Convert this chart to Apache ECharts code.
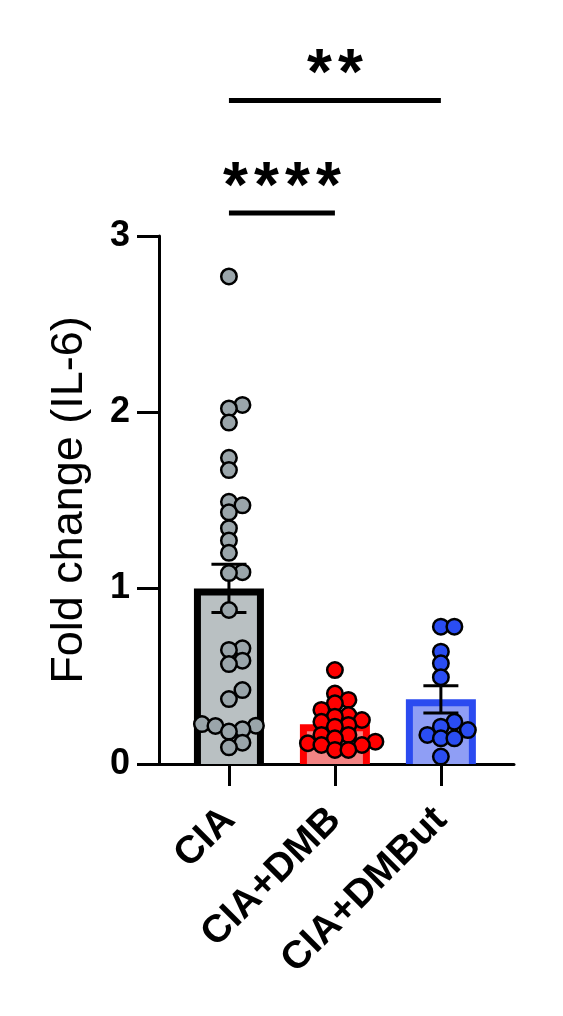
<!DOCTYPE html>
<html><head><meta charset="utf-8">
<script src="https://cdn.jsdelivr.net/npm/echarts@6/dist/echarts.min.js"></script>
<style>html,body{margin:0;padding:0;background:#fff}#c{width:563px;height:1016px}</style>
</head><body><div id="c"></div>
<script>
// ---------------- data ----------------
const categories = ['CIA', 'CIA+DMB', 'CIA+DMBut'];
const ciaValues = [2.77, 2.04, 2.02, 1.94, 1.74, 1.67, 1.49, 1.47, 1.43, 1.34, 1.27, 1.20, 1.09, 1.085,
  0.875, 0.657, 0.648, 0.587, 0.568, 0.42, 0.369, 0.227, 0.218, 0.216, 0.197, 0.184, 0.121, 0.095];
const dmbValues = [0.534, 0.40, 0.364, 0.345, 0.307, 0.278, 0.269, 0.25, 0.24, 0.222, 0.212,
  0.165, 0.165, 0.146, 0.127, 0.118, 0.108, 0.108, 0.08, 0.08];
const dmbutValues = [0.78, 0.78, 0.638, 0.572, 0.493, 0.24, 0.212, 0.193, 0.165, 0.146, 0.146, 0.042];
const yTicks = [0, 1, 2, 3];
const significance = [
  { label: '****', from: 0, to: 1 },
  { label: '**', from: 0, to: 2 }
];

// ---------------- style ----------------
const FONT = '"Liberation Sans", Arial, Helvetica, sans-serif';
const GRID = { left: 159, top: 236, width: 355, height: 528 };
const X_MIN = -0.66, X_MAX = 2.69;
const BAR_W = 70, BAR_B = 7;
const SIG_LEVELS = [3.13, 3.77];
const STAR_GAP = 31, STAR_SIZE = 64, STAR_OFF = 24;
const groupStyles = [
  { border: '#000000', fill: '#b9c0c2', point: '#9aa5aa' },
  { border: '#ff0000', fill: '#f38383', point: '#ff0000' },
  { border: '#2b4bf0', fill: '#8f9ef5', point: '#2a4df2' }
];
const groupValues = [ciaValues, dmbValues, dmbutValues];

function mean(a) { return a.reduce((s, v) => s + v, 0) / a.length; }
function sem(a) {
  const m = mean(a);
  const sd = Math.sqrt(a.reduce((s, v) => s + (v - m) * (v - m), 0) / (a.length - 1));
  return sd / Math.sqrt(a.length);
}

// deterministic swarm layout: points at nearly the same level are spread sideways
function swarm(vals, cx) {
  const sx = GRID.width / (X_MAX - X_MIN), sy = GRID.height / (yTicks[yTicks.length - 1] - yTicks[0]);
  const DX = 13.5, DY = 9.5;
  const placed = [];
  const order = vals.map((v, i) => i).sort((a, b) => vals[a] - vals[b]);
  const out = new Array(vals.length);
  for (const i of order) {
    const py = vals[i] * sy;
    const near = placed.filter(p => Math.abs(p[1] - py) < DY);
    const cands = [0];
    near.forEach(p => cands.push(p[0] + DX, p[0] - DX));
    cands.sort((a, b) => (Math.abs(a) - Math.abs(b)) || (b - a));
    let best = 0;
    for (const c of cands) {
      if (near.every(p => Math.abs(p[0] - c) >= DX - 1e-6)) { best = c; break; }
    }
    placed.push([best, py]);
    out[i] = [cx + best / sx, vals[i]];
  }
  return out;
}

const barData = groupValues.map((v, i) => [i, mean(v)]);
const errData = groupValues.map((v, i) => [i, mean(v), sem(v)]);

const chart = echarts.init(document.getElementById('c'), null, { renderer: 'canvas' });

const scatterSeries = groupValues.map((v, i) => ({
  type: 'scatter',
  name: categories[i],
  data: swarm(v, i),
  symbol: 'circle',
  symbolSize: 15.5,
  itemStyle: { color: groupStyles[i].point, borderColor: '#000', borderWidth: 2.5, opacity: 1 },
  z: 5,
  silent: true
}));

const option = {
  animation: false,
  backgroundColor: '#fff',
  grid: Object.assign({ containLabel: false }, GRID),
  xAxis: {
    type: 'value', min: X_MIN, max: X_MAX,
    splitLine: { show: false },
    axisLine: { show: true, onZero: true, lineStyle: { color: '#000', width: 3 } },
    axisTick: { show: true, customValues: [0, 1, 2], length: 22, lineStyle: { color: '#000', width: 3 } },
    axisLabel: {
      customValues: [0, 1, 2],
      formatter: v => categories[Math.round(v)] || '',
      rotate: 45, margin: 50, fontSize: 39, fontWeight: 'bold', color: '#000', fontFamily: FONT
    }
  },
  yAxis: {
    type: 'value', min: yTicks[0], max: yTicks[yTicks.length - 1], interval: 1,
    name: 'Fold change (IL-6)', nameLocation: 'middle', nameGap: 67, nameRotate: 90,
    nameTextStyle: { fontSize: 45, color: '#000', fontFamily: FONT },
    splitLine: { show: false },
    axisLine: { show: true, onZero: false, lineStyle: { color: '#000', width: 3 } },
    axisTick: { show: true, length: 22, lineStyle: { color: '#000', width: 3 } },
    axisLabel: { fontSize: 36, fontWeight: 'bold', color: '#000', margin: 29, fontFamily: FONT }
  },
  series: [
    {
      type: 'custom', name: 'bars', data: barData, z: 1, silent: true,
      encode: { x: 0, y: 1 },
      renderItem: (params, api) => {
        const st = groupStyles[params.dataIndex];
        const base = api.coord([api.value(0), 0]);
        const top = api.coord([api.value(0), api.value(1)]);
        const h = base[1] - top[1];
        return {
          type: 'group', children: [
            { type: 'rect', shape: { x: base[0] - BAR_W / 2, y: top[1], width: BAR_W, height: h }, style: { fill: st.border } },
            { type: 'rect', shape: { x: base[0] - BAR_W / 2 + BAR_B, y: top[1] + BAR_B, width: BAR_W - 2 * BAR_B, height: h - BAR_B }, style: { fill: st.fill } }
          ]
        };
      }
    },
    {
      type: 'custom', name: 'sem', data: errData, z: 2, silent: true,
      encode: { x: 0, y: 1 },
      renderItem: (params, api) => {
        const x = api.value(0), m = api.value(1), e = api.value(2);
        const hi = api.coord([x, m + e]), lo = api.coord([x, m - e]);
        const cw = 17.5;
        const ls = { stroke: '#000', lineWidth: 3 };
        return {
          type: 'group', children: [
            { type: 'line', shape: { x1: hi[0], y1: hi[1], x2: lo[0], y2: lo[1] }, style: ls },
            { type: 'line', shape: { x1: hi[0] - cw, y1: hi[1], x2: hi[0] + cw, y2: hi[1] }, style: ls },
            { type: 'line', shape: { x1: lo[0] - cw, y1: lo[1], x2: lo[0] + cw, y2: lo[1] }, style: ls }
          ]
        };
      }
    },
    ...scatterSeries,
    {
      type: 'custom', name: 'significance', clip: false, z: 6, silent: true,
      data: significance.map((s, i) => [s.from, s.to, SIG_LEVELS[i]]),
      encode: { x: [0, 1], y: 2 },
      renderItem: (params, api) => {
        const s = significance[params.dataIndex];
        const a = api.coord([api.value(0), api.value(2)]);
        const b = api.coord([api.value(1), api.value(2)]);
        const mid = (a[0] + b[0]) / 2;
        const children = [
          { type: 'line', shape: { x1: a[0], y1: a[1], x2: b[0], y2: b[1] }, style: { stroke: '#000', lineWidth: 5 } }
        ];
        const chars = s.label.split('');
        chars.forEach((ch, k) => {
          children.push({
            type: 'text',
            x: mid + (k - (chars.length - 1) / 2) * STAR_GAP,
            y: a[1] - STAR_OFF,
            style: {
              text: ch, fill: '#000',
              font: 'bold ' + STAR_SIZE + 'px ' + FONT,
              align: 'center', verticalAlign: 'middle',
              textAlign: 'center', textVerticalAlign: 'middle'
            }
          });
        });
        return { type: 'group', children };
      }
    }
  ]
};
chart.setOption(option);
</script>
</body></html>
